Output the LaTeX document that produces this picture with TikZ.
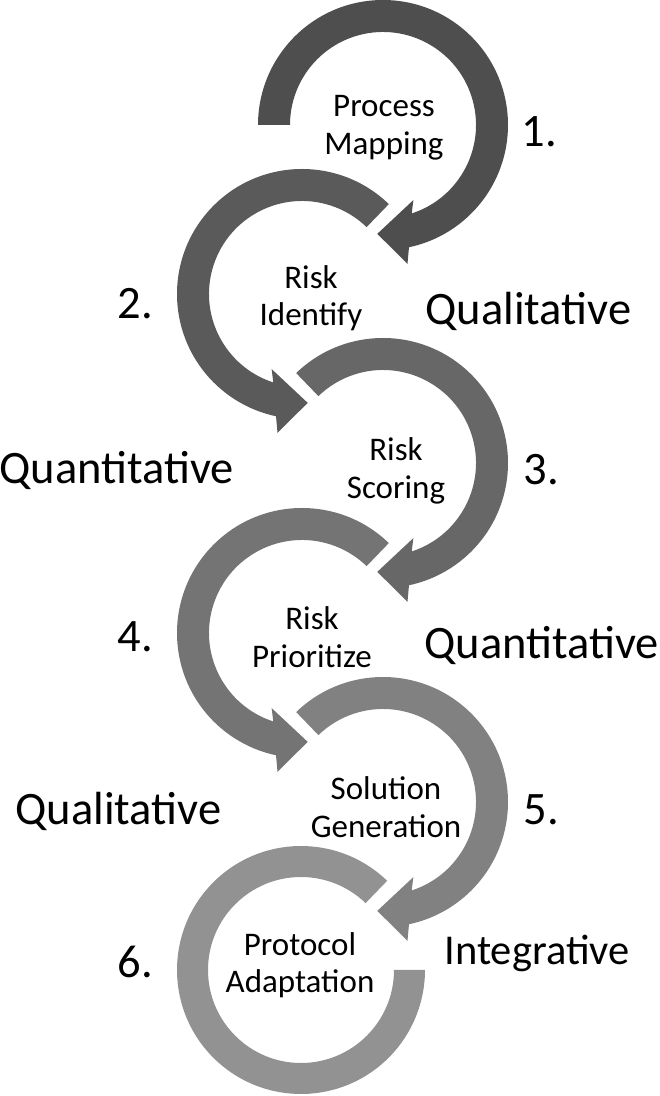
\documentclass[tikz,border=0pt]{standalone}
\usepackage{fontspec}
\setmainfont{Carlito}
\usepackage{tikz}
\definecolor{shadeA}{RGB}{78,78,78}
\definecolor{shadeB}{RGB}{90,90,90}
\definecolor{shadeC}{RGB}{103,103,103}
\definecolor{shadeD}{RGB}{116,116,116}
\definecolor{shadeE}{RGB}{129,129,129}
\definecolor{shadeF}{RGB}{146,146,146}

\begin{document}
\begin{tikzpicture}[x=1pt,y=1pt,
        inner/.style={align=center, font=\fontsize{33}{37.5}\selectfont},
        big/.style={anchor=base west, font=\fontsize{46.5}{56}\selectfont}]
        \useasboundingbox (0,0) rectangle (660,1096);
        \coordinate (cA) at (383,971);
        \coordinate (cB) at (302,802);
        \coordinate (cC) at (383,633);
        \coordinate (cD) at (302,463);
        \coordinate (cE) at (383,294);
        \coordinate (cF) at (301,126);
        % clockwise rings
        \fill[shadeA, shift={(cA)}] (180:125pt) arc[start angle=180, end angle=-78, radius=125pt] -- (-80:141pt) -- (-93:109pt) -- (-68:81pt) -- (-72:93pt) arc[start angle=-72, end angle=180, radius=93pt] -- cycle;
        \fill[shadeC, shift={(cC)}] (134:125pt) arc[start angle=134, end angle=-78, radius=125pt] -- (-80:141pt) -- (-93:109pt) -- (-68:81pt) -- (-72:93pt) arc[start angle=-72, end angle=134, radius=93pt] -- cycle;
        \fill[shadeE, shift={(cE)}] (134:125pt) arc[start angle=134, end angle=-78, radius=125pt] -- (-80:141pt) -- (-93:109pt) -- (-68:81pt) -- (-72:93pt) arc[start angle=-72, end angle=134, radius=93pt] -- cycle;
        % counter-clockwise rings
        \fill[shadeB, shift={(cB)}] (46:125pt) arc[start angle=46, end angle=258, radius=125pt] -- (260:141pt) -- (273:109pt) -- (248:81pt) -- (252:93pt) arc[start angle=252, end angle=46, radius=93pt] -- cycle;
        \fill[shadeD, shift={(cD)}] (46:125pt) arc[start angle=46, end angle=258, radius=125pt] -- (260:141pt) -- (273:109pt) -- (248:81pt) -- (252:93pt) arc[start angle=252, end angle=46, radius=93pt] -- cycle;
        \fill[shadeF, shift={(cF)}] (46:124pt) arc[start angle=46, end angle=360, radius=124pt] -- (360:93pt) arc[start angle=360, end angle=46, radius=93pt] -- cycle;
        % step names
        \node[inner] (tA) at (384,968) {Process\\Mapping};
        \node[inner] (tB) at (311,798) {Risk\\Identify};
        \node[inner] (tC) at (396,625) {Risk\\Scoring};
        \node[inner] (tD) at (312,459) {Risk\\Prioritize};
        \node[inner] (tE) at (386,289) {Solution\\Generation};
        \node[inner] (tF) at (300,131) {Protocol\\Adaptation};
        % numbers and kinds
        \node[big] (nA) at (518,949) {1.};
        \node[big] (nB) at (114,777) {2.};
        \node[big] (nC) at (520,611) {3.};
        \node[big] (nD) at (114,444) {4.};
        \node[big] (nE) at (520,271) {5.};
        \node[big] (nF) at (114,118) {6.};
        \node[big] (kB) at (422,771) {Qualitative};
        \node[big] (kC) at (-4,612) {Quantitative};
        \node[big] (kD) at (421,437) {Quantitative};
        \node[big] (kE) at (12,271) {Qualitative};
        \node[big, font=\fontsize{42.5}{50}\selectfont] (kF) at (441,131) {Integrative};
    \end{tikzpicture}
\end{document}
